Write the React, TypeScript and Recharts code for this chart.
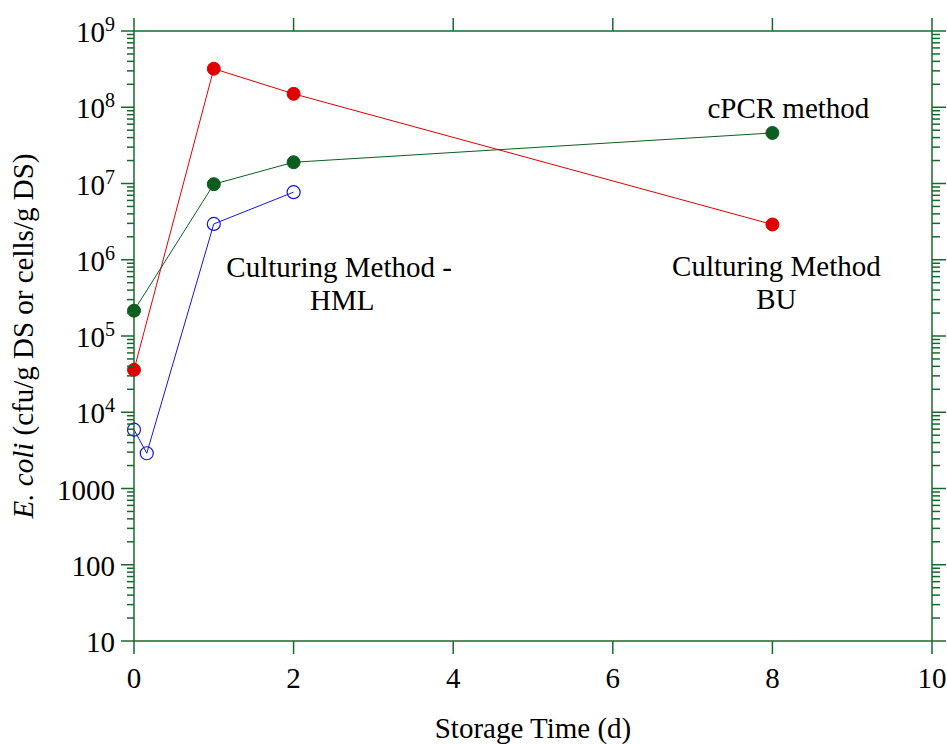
import React from 'react';
import { ComposedChart, XAxis, YAxis, Line, ReferenceDot } from 'recharts';

// storage day vs E. coli count, one pair of arrays per method
const buDays = [0, 1, 2, 8];
const buCounts = [3.6e4, 3.2e8, 1.5e8, 2.9e6];
const pcrDays = [0, 1, 2, 8];
const pcrCounts = [2.15e5, 9.8e6, 1.9e7, 4.6e7];
const hmlDays = [0, 0.16, 1, 2];
const hmlCounts = [5.9e3, 2.9e3, 2.95e6, 7.7e6];

const xTicks = [0, 2, 4, 6, 8, 10];
const yMajor = [10, 100, 1000, 1e4, 1e5, 1e6, 1e7, 1e8, 1e9];
const yBase = ['10', '100', '1000', '10', '10', '10', '10', '10', '10'];
const yExp = ['', '', '', '4', '5', '6', '7', '8', '9'];
const minorSteps = [2, 3, 4, 5, 6, 7, 8, 9];

const noteText = ['cPCR method', 'Culturing Method -', 'HML', 'Culturing Method', 'BU'];
const noteX = [8.2, 2.57, 2.61, 8.05, 8.05];
const noteY = [9.5e7, 7.8e5, 2.9e5, 8.0e5, 3.0e5];

const font = "'Liberation Serif', 'Times New Roman', serif";
const fontSize = 29;
const axisColor = '#17692b';
const red = '#e00000';
const green = '#0b5e1f';
const blue = '#1414e6';

const toPoints = (xs: number[], ys: number[]) => xs.map((x, i) => ({ x, y: ys[i] }));
const buData = toPoints(buDays, buCounts);
const pcrData = toPoints(pcrDays, pcrCounts);
const hmlData = toPoints(hmlDays, hmlCounts);

const yTicks = [
  ...yMajor.slice(0, -1).flatMap((v) => [v, ...minorSteps.map((m) => m * v)]),
  yMajor[yMajor.length - 1],
];

const tickLen = (v: number) => (yMajor.indexOf(v) >= 0 ? 13 : 7);

const LeftTick = (props: any) => {
  const { x, y, payload } = props;
  const i = yMajor.indexOf(payload.value);
  return (
    <g>
      <line x1={x - tickLen(payload.value)} x2={x} y1={y} y2={y} stroke={axisColor} strokeWidth={1.5} />
      {i >= 0 && (
        <text x={x - 19} y={y + 11} textAnchor="end" fontSize={fontSize} fill="#000" fontFamily={font}>
          {yBase[i]}
          {yExp[i] && (
            <tspan dy={-11} fontSize={20}>
              {yExp[i]}
            </tspan>
          )}
        </text>
      )}
    </g>
  );
};

const RightTick = (props: any) => {
  const { x, y, payload } = props;
  return <line x1={x} x2={x + tickLen(payload.value) + 1} y1={y} y2={y} stroke={axisColor} strokeWidth={1.5} />;
};

const BottomTick = (props: any) => {
  const { x, y, payload } = props;
  return (
    <g>
      <line x1={x} x2={x} y1={y} y2={y + 13} stroke={axisColor} strokeWidth={1.5} />
      <text x={x} y={y + 47} textAnchor="middle" fontSize={fontSize} fill="#000" fontFamily={font}>
        {payload.value}
      </text>
    </g>
  );
};

const TopTick = (props: any) => {
  const { x, y } = props;
  return <line x1={x} x2={x} y1={y} y2={y - 13} stroke={axisColor} strokeWidth={1.5} />;
};

const NoteShape = (text: string) => (props: any) => (
  <text x={props.cx} y={props.cy} dy={9} textAnchor="middle" fontSize={fontSize} fill="#000" fontFamily={font}>
    {text}
  </text>
);

const App = () => {
  return (
    <div style={{ position: 'absolute', left: 0, top: 0 }}>
      <ComposedChart width={947} height={744} margin={{ top: 11, right: 0, bottom: 0, left: 0 }}>
        <XAxis
          xAxisId="bottom"
          dataKey="x"
          type="number"
          domain={[0, 10]}
          ticks={xTicks}
          interval={0}
          allowDataOverflow
          height={103}
          tickSize={0}
          tickMargin={0}
          tickLine={false}
          tick={BottomTick}
          axisLine={{ stroke: axisColor, strokeWidth: 1.5 }}
          label={{
            content: (p: any) => (
              <text
                x={p.viewBox.x + p.viewBox.width / 2}
                y={p.viewBox.y + 97}
                textAnchor="middle"
                fontSize={fontSize}
                fill="#000"
                fontFamily={font}
              >
                Storage Time (d)
              </text>
            ),
          }}
        />
        <XAxis
          xAxisId="top"
          orientation="top"
          dataKey="x"
          type="number"
          domain={[0, 10]}
          ticks={xTicks}
          interval={0}
          allowDataOverflow
          height={20}
          tickSize={0}
          tickMargin={0}
          tickLine={false}
          tick={TopTick}
          axisLine={{ stroke: axisColor, strokeWidth: 1.5 }}
        />
        <YAxis
          yAxisId="left"
          type="number"
          scale="log"
          domain={[10, 1e9]}
          ticks={yTicks}
          interval={0}
          allowDataOverflow
          width={134}
          tickSize={0}
          tickMargin={0}
          tickLine={false}
          tick={LeftTick}
          axisLine={{ stroke: axisColor, strokeWidth: 1.5 }}
          label={{
            content: (p: any) => {
              const lx = p.viewBox.x + 33;
              const ly = p.viewBox.y + p.viewBox.height / 2;
              return (
                <text
                  x={lx}
                  y={ly}
                  transform={`rotate(-90, ${lx}, ${ly})`}
                  textAnchor="middle"
                  fontSize={fontSize}
                  fill="#000"
                  fontFamily={font}
                >
                  <tspan fontStyle="italic">E. coli</tspan> (cfu/g DS or cells/g DS)
                </text>
              );
            },
          }}
        />
        <YAxis
          yAxisId="right"
          orientation="right"
          type="number"
          scale="log"
          domain={[10, 1e9]}
          ticks={yTicks}
          interval={0}
          allowDataOverflow
          width={15}
          tickSize={0}
          tickMargin={0}
          tickLine={false}
          tick={RightTick}
          axisLine={{ stroke: axisColor, strokeWidth: 1.5 }}
        />
        <Line
          xAxisId="bottom"
          yAxisId="left"
          data={buData}
          dataKey="y"
          name="Culturing Method BU"
          type="linear"
          stroke={red}
          strokeWidth={1}
          dot={{ r: 6.5, fill: red, stroke: red, strokeWidth: 1, clipDot: false }}
          isAnimationActive={false}
        />
        <Line
          xAxisId="bottom"
          yAxisId="left"
          data={pcrData}
          dataKey="y"
          name="cPCR method"
          type="linear"
          stroke={green}
          strokeWidth={1}
          dot={{ r: 6.5, fill: green, stroke: green, strokeWidth: 1, clipDot: false }}
          isAnimationActive={false}
        />
        <Line
          xAxisId="bottom"
          yAxisId="left"
          data={hmlData}
          dataKey="y"
          name="Culturing Method - HML"
          type="linear"
          stroke={blue}
          strokeWidth={1}
          dot={{ r: 6.5, fill: 'none', stroke: blue, strokeWidth: 1.2, clipDot: false }}
          isAnimationActive={false}
        />
        {noteText.map((t, i) => (
          <ReferenceDot
            key={t}
            xAxisId="bottom"
            yAxisId="left"
            x={noteX[i]}
            y={noteY[i]}
            r={0}
            ifOverflow="visible"
            shape={NoteShape(t)}
          />
        ))}
      </ComposedChart>
    </div>
  );
};

export default App;
